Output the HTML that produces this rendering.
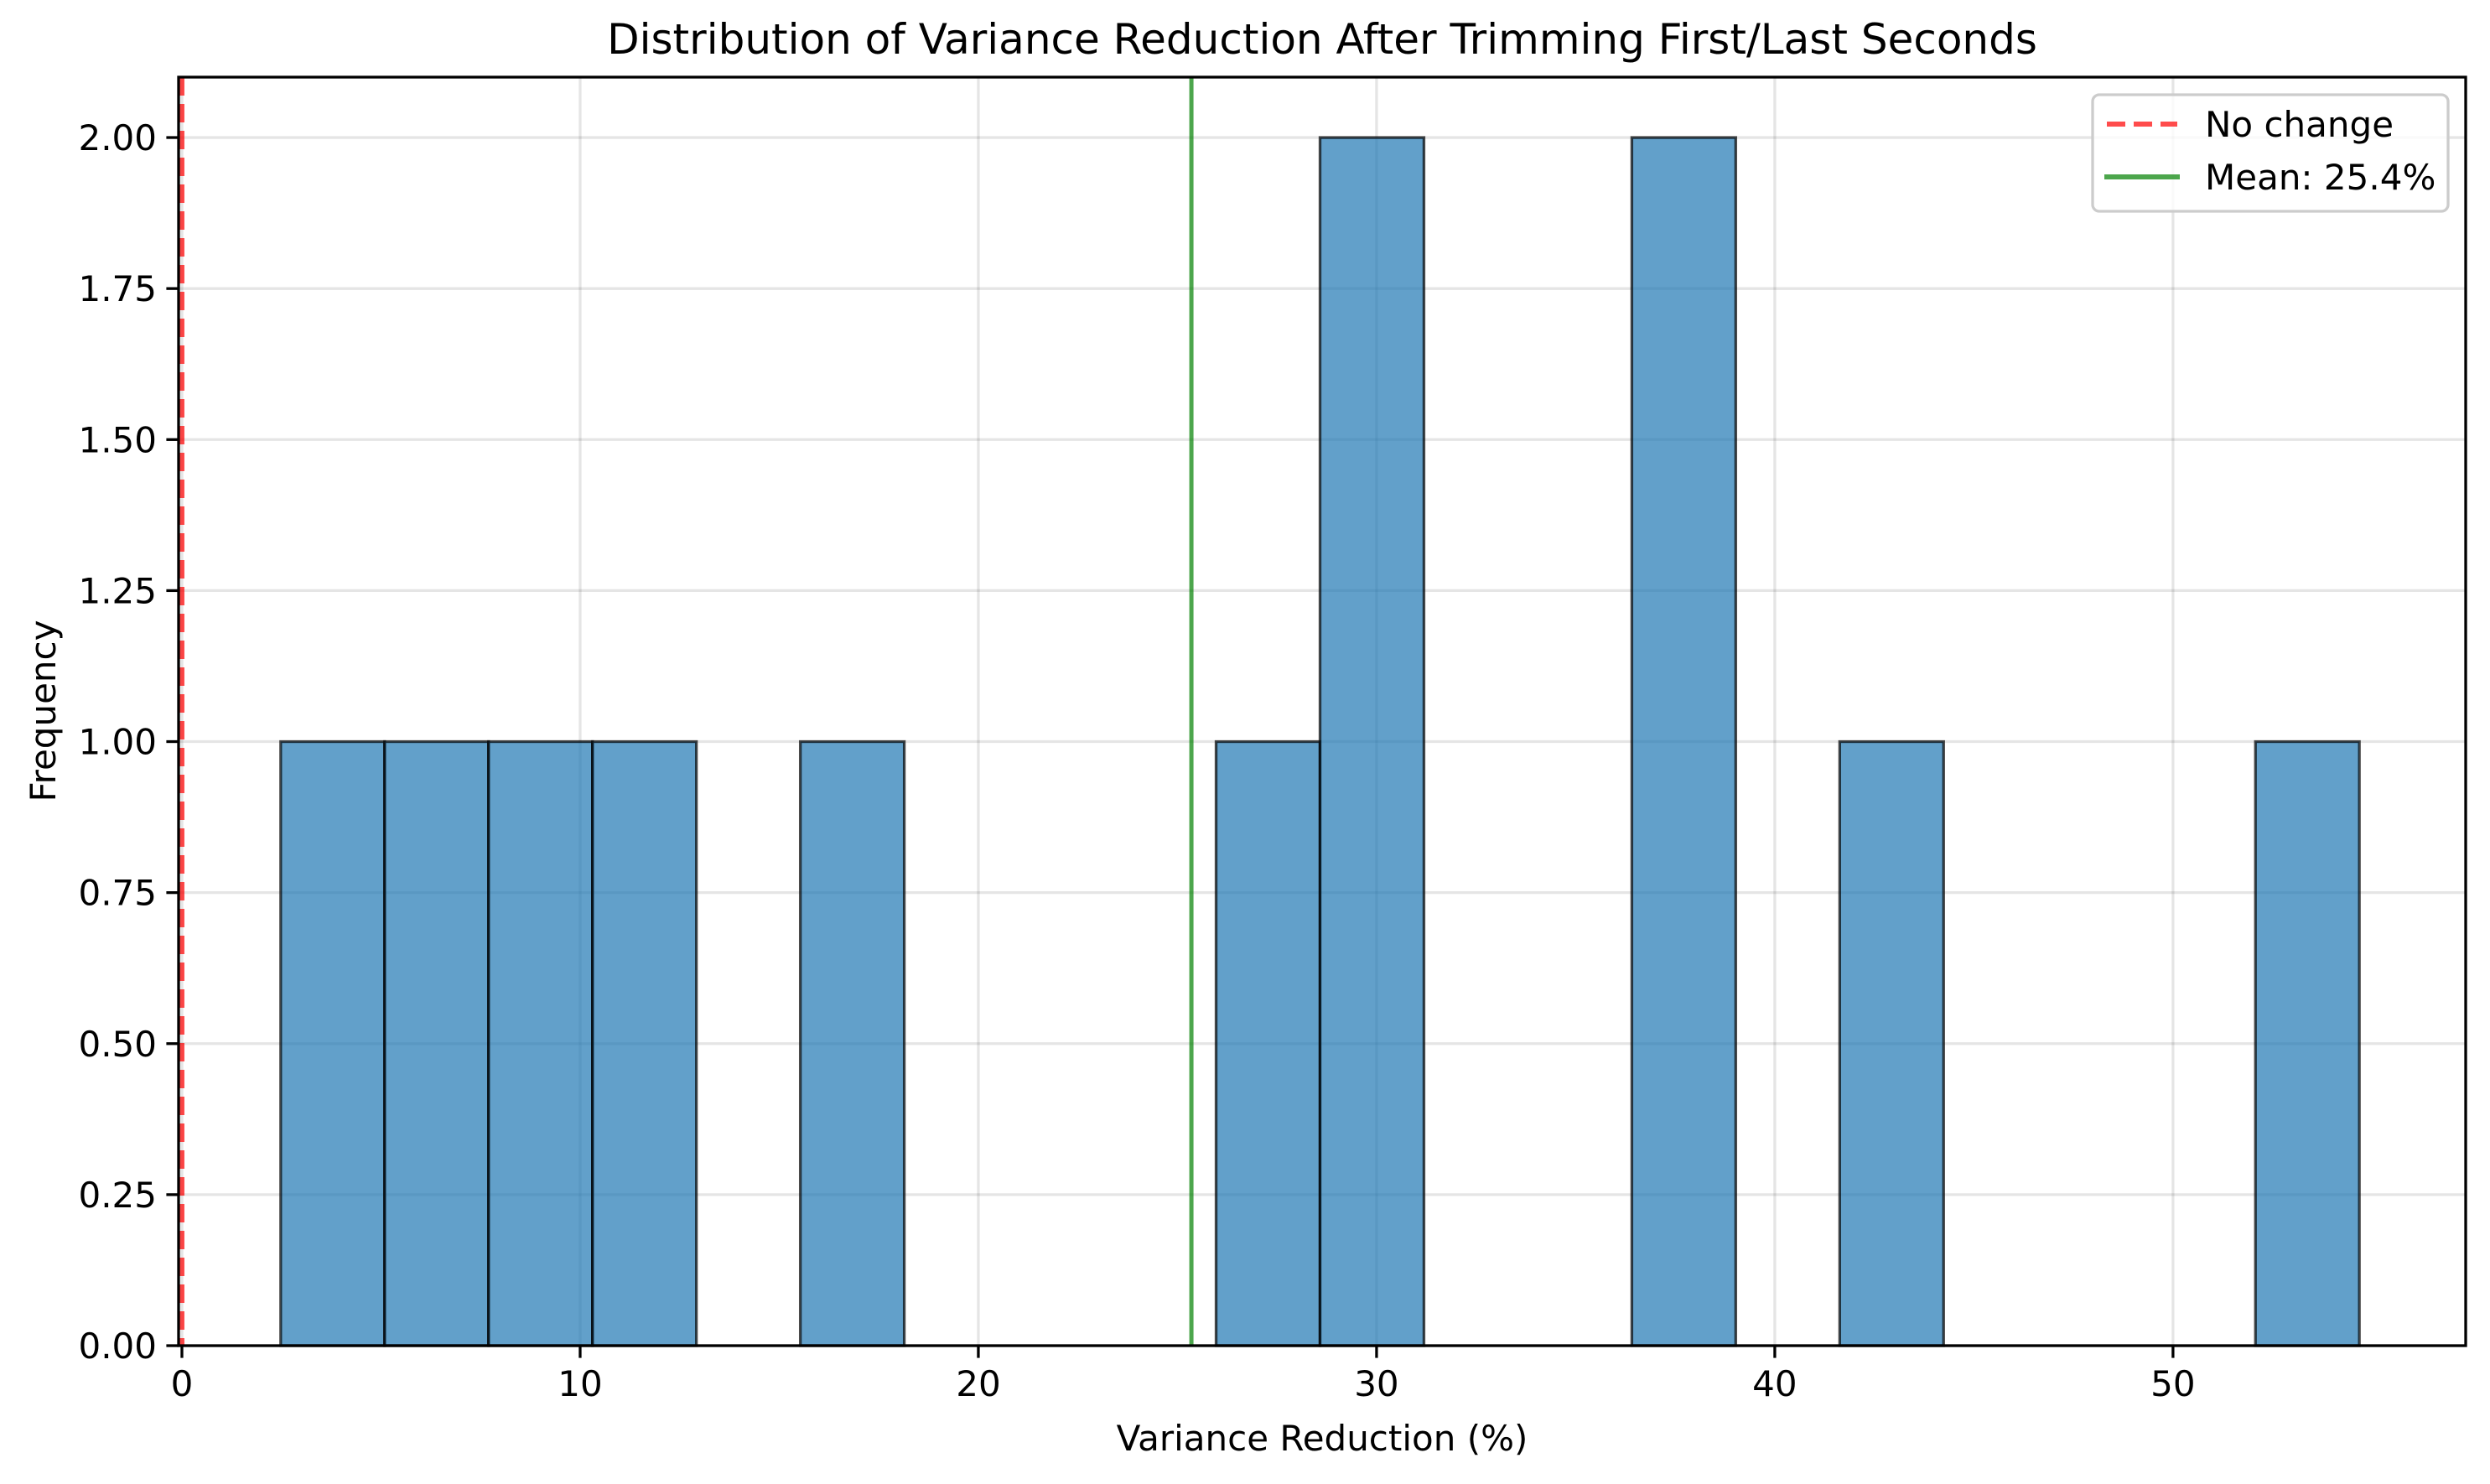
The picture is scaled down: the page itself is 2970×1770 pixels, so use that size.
<!DOCTYPE html>
<html><head><meta charset="utf-8"><style>
body{margin:0;background:#fff;}
svg text{font-family:"DejaVu Sans","Liberation Sans",sans-serif;fill:#000;}
</style></head><body>
<svg id="chart" width="2970" height="1765" xmlns="http://www.w3.org/2000/svg">
<rect width="2970" height="1765" fill="#fff"/>
<text x="1577" y="64" font-size="50" text-anchor="middle">Distribution of Variance Reduction After Trimming First/Last Seconds</text>
<text x="1577" y="1730" font-size="42" text-anchor="middle">Variance Reduction (%)</text>
<text x="0" y="0" font-size="42" text-anchor="middle" transform="translate(66,848) rotate(-90)">Frequency</text>
<g id="grid"></g><g id="bars"></g><g id="refs"></g><g id="axes"></g>
</svg>
<script>
const binStart = 2.48;
const binWidth = 2.61;
const counts = [1,1,1,1,0,1,0,0,0,1,2,0,0,2,0,1,0,0,0,1];
const xTicks = [0,10,20,30,40,50];
const yTicks = [0,0.25,0.5,0.75,1.0,1.25,1.5,1.75,2.0];
const yTickLabels = ["0.00","0.25","0.50","0.75","1.00","1.25","1.50","1.75","2.00"];
const meanValue = 25.35;
const noChangeValue = 0;

const L=213,R=2941,T=92,B=1605, xmin=-0.084, xmax=57.35, ymax=2.1;
const sx=v=>L+(v-xmin)/(xmax-xmin)*(R-L);
const sy=v=>B-v/ymax*(B-T);
const NS="http://www.w3.org/2000/svg";
function mk(tag,attrs,parent){const e=document.createElementNS(NS,tag);for(const k in attrs)e.setAttribute(k,attrs[k]);parent.appendChild(e);return e;}
const grid=document.getElementById('grid'),bars=document.getElementById('bars'),refs=document.getElementById('refs'),axes=document.getElementById('axes');
xTicks.forEach(v=>{
  const g=mk('line',{x1:sx(v),x2:sx(v),y1:T,y2:B,stroke:'#000','stroke-opacity':0.1,'stroke-width':3.3},grid);
  
  
});
yTicks.forEach(v=>{
  const g=mk('line',{x1:L,x2:R,y1:sy(v),y2:sy(v),stroke:'#000','stroke-opacity':0.1,'stroke-width':3.3},grid);
  
  
});
counts.forEach((c,i)=>{
  if(c<=0)return;
  const x0=sx(binStart+i*binWidth),x1=sx(binStart+(i+1)*binWidth);
  const r=mk('rect',{x:x0,y:sy(c),width:x1-x0,height:sy(0)-sy(c),fill:'#1f77b4','fill-opacity':0.7,stroke:'#000','stroke-opacity':0.7,'stroke-width':3.3},bars);
  
  
});
const nc=mk('line',{x1:sx(noChangeValue),x2:sx(noChangeValue),y1:T,y2:B,stroke:'#ff0000','stroke-opacity':0.7,'stroke-width':6,'stroke-dasharray':'22 10'},refs);


const mn=mk('line',{x1:sx(meanValue),x2:sx(meanValue),y1:T,y2:B,stroke:'#008000','stroke-opacity':0.7,'stroke-width':5},refs);


const frame=mk('rect',{x:L,y:T,width:R-L,height:B-T,fill:'none',stroke:'#000','stroke-width':3.3},axes);


xTicks.forEach(v=>{
  const t=mk('line',{x1:sx(v),x2:sx(v),y1:B,y2:B+14.6,stroke:'#000','stroke-width':3.3},axes);
  
  
  const l=mk('text',{x:sx(v),y:B+60,'font-size':42,'text-anchor':'middle'},axes);
  l.textContent=String(v);
  
  
});
yTicks.forEach((v,i)=>{
  const t=mk('line',{x1:L-14.6,x2:L,y1:sy(v),y2:sy(v),stroke:'#000','stroke-width':3.3},axes);
  
  
  const l=mk('text',{x:L-26,y:sy(v)+15,'font-size':42,'text-anchor':'end'},axes);
  l.textContent=yTickLabels[i];
  
  
});
</script>
<svg style="position:absolute;left:0;top:0" width="2970" height="1765">
<g>
<rect x="2496" y="113" width="424" height="139" rx="8" fill="#fff" fill-opacity="0.8" stroke="#ccc" stroke-width="3.3"/>
<g>
<line x1="2513" y1="148" x2="2597" y2="148" stroke="#ff0000" stroke-opacity="0.7" stroke-width="6" stroke-dasharray="22 10"/>
<text x="2630" y="163" font-size="42" style="font-family:'DejaVu Sans','Liberation Sans',sans-serif">No change</text>
</g>
<g>
<line x1="2510" y1="211" x2="2600" y2="211" stroke="#008000" stroke-opacity="0.7" stroke-width="6"/>
<text x="2630" y="226" font-size="42" style="font-family:'DejaVu Sans','Liberation Sans',sans-serif">Mean: 25.4%</text>
</g>
</g>
</svg>
</body></html>
